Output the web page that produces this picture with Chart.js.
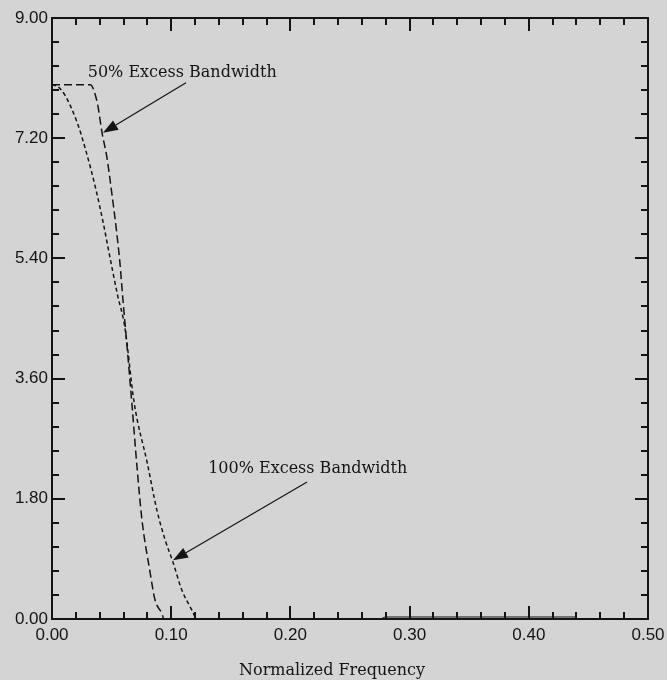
<!DOCTYPE html>
<html>
<head>
<meta charset="utf-8">
<script src="https://cdn.jsdelivr.net/npm/chart.js@4.4.1/dist/chart.umd.min.js"></script>
<style>
  html, body { margin: 0; padding: 0; background: #d4d4d4; }
  #wrap { width: 667px; height: 680px; }
</style>
</head>
<body>
<div id="wrap"><canvas id="c" width="667" height="680"></canvas></div>
<script>
// Raised-cosine magnitude responses (normalized frequency vs. magnitude)
const freq50 = [0, 0.032, 0.038, 0.042, 0.046, 0.050, 0.054, 0.057, 0.0595, 0.0615, 0.067, 0.0713, 0.0755, 0.082, 0.0865, 0.092, 0.094, 0.275];
const mag50  = [8.00, 8.00, 7.73, 7.28, 6.92, 6.40, 5.83, 5.33, 4.78, 4.38, 3.23, 2.28, 1.48, 0.73, 0.28, 0.09, 0.00, 0.00];

const freq100 = [0, 0.005, 0.011, 0.021, 0.028, 0.037, 0.043, 0.049, 0.055, 0.061, 0.069, 0.080, 0.088, 0.095, 0.1015, 0.109, 0.1175, 0.1215, 0.275, 0.28, 0.44];
const mag100  = [8.00, 7.97, 7.84, 7.44, 7.04, 6.42, 5.93, 5.38, 4.85, 4.38, 3.23, 2.33, 1.63, 1.18, 0.85, 0.43, 0.13, 0.00, 0.00, 0.03, 0.03];

const seriesNames = ['50% Excess Bandwidth', '100% Excess Bandwidth'];
const xTickValues = [0, 0.1, 0.2, 0.3, 0.4, 0.5];
const yTickValues = [0, 1.8, 3.6, 5.4, 7.2, 9.0];
const xAxisTitle = 'Normalized Frequency';

const toPoints = (xs, ys) => xs.map((x, i) => ({ x: x, y: ys[i] }));

// Callout labels with arrows, positioned in data coordinates
const callouts = [
  { text: seriesNames[0], at: [0.030, 8.12], from: [0.1124, 8.03], to: [0.0428, 7.28] },
  { text: seriesNames[1], at: [0.131, 2.19], from: [0.214, 2.05], to: [0.1015, 0.88] }
];

const ink = '#141414';

const framePlugin = {
  id: 'frame',
  afterDatasetsDraw(chart) {
    const { ctx, chartArea: a, scales } = chart;
    const xs = scales.x, ys = scales.y;
    ctx.save();
    ctx.strokeStyle = ink;
    ctx.lineWidth = 2;
    ctx.strokeRect(a.left, a.top, a.right - a.left, a.bottom - a.top);

    const majorLen = 13, minorLen = 7, sub = 5;
    const xStep = (xTickValues[1] - xTickValues[0]) / sub;
    const yStep = (yTickValues[1] - yTickValues[0]) / sub;
    ctx.beginPath();
    const nx = Math.round((xTickValues[xTickValues.length - 1] - xTickValues[0]) / xStep);
    for (let i = 0; i <= nx; i++) {
      const px = Math.round(xs.getPixelForValue(xTickValues[0] + i * xStep));
      const len = i % sub === 0 ? majorLen : minorLen;
      ctx.moveTo(px, a.bottom); ctx.lineTo(px, a.bottom - len);
      ctx.moveTo(px, a.top); ctx.lineTo(px, a.top + len);
    }
    const ny = Math.round((yTickValues[yTickValues.length - 1] - yTickValues[0]) / yStep);
    for (let i = 0; i <= ny; i++) {
      const py = Math.round(ys.getPixelForValue(yTickValues[0] + i * yStep));
      const len = i % sub === 0 ? majorLen : minorLen;
      ctx.moveTo(a.left, py); ctx.lineTo(a.left + len, py);
      ctx.moveTo(a.right, py); ctx.lineTo(a.right - len, py);
    }
    ctx.stroke();

    // callouts
    ctx.font = '16px "DejaVu Serif"';
    ctx.fillStyle = ink;
    ctx.textBaseline = 'alphabetic';
    ctx.textAlign = 'left';
    ctx.lineWidth = 1.2;
    callouts.forEach(c => {
      ctx.fillText(c.text, xs.getPixelForValue(c.at[0]), ys.getPixelForValue(c.at[1]));
      const x0 = xs.getPixelForValue(c.from[0]), y0 = ys.getPixelForValue(c.from[1]);
      const x1 = xs.getPixelForValue(c.to[0]), y1 = ys.getPixelForValue(c.to[1]);
      const ang = Math.atan2(y1 - y0, x1 - x0);
      const hl = 15, hw = 5.5;
      const bx = x1 - hl * Math.cos(ang), by = y1 - hl * Math.sin(ang);
      ctx.beginPath();
      ctx.moveTo(x0, y0); ctx.lineTo(bx, by);
      ctx.stroke();
      ctx.beginPath();
      ctx.moveTo(x1, y1);
      ctx.lineTo(bx + hw * Math.sin(ang), by - hw * Math.cos(ang));
      ctx.lineTo(bx - hw * Math.sin(ang), by + hw * Math.cos(ang));
      ctx.closePath();
      ctx.fill();
    });

    // axis title
    ctx.textAlign = 'center';
    ctx.fillText(xAxisTitle, (a.left + a.right) / 2 - 18, a.bottom + 56);
    ctx.restore();
  }
};

// the flat tail past the band edge is drawn as a plain thin line
const tailStart = 0.275;

new Chart(document.getElementById('c'), {
  type: 'line',
  data: {
    datasets: [
      {
        label: seriesNames[0],
        data: toPoints(freq50, mag50),
        borderColor: ink,
        borderWidth: 1.5,
        borderDash: [8, 4],
        pointRadius: 0,
        fill: false,
        cubicInterpolationMode: 'monotone'
      },
      {
        label: seriesNames[1],
        data: toPoints(freq100, mag100),
        borderColor: ink,
        borderWidth: 1.5,
        borderDash: [4, 3],
        pointRadius: 0,
        fill: false,
        cubicInterpolationMode: 'monotone',
        segment: {
          borderDash: ctx => (ctx.p0.parsed.x >= tailStart ? [] : [4, 3]),
          borderWidth: ctx => (ctx.p0.parsed.x >= tailStart ? 1 : 1.5)
        }
      }
    ]
  },
  options: {
    responsive: false,
    animation: false,
    layout: { padding: { left: 0, right: 19, top: 18, bottom: 0 } },
    plugins: { legend: { display: false }, tooltip: { enabled: false } },
    scales: {
      x: {
        type: 'linear',
        min: 0, max: 0.5,
        grid: { display: false, drawTicks: false },
        border: { display: false },
        afterBuildTicks: s => { s.ticks = xTickValues.map(v => ({ value: v })); },
        afterFit: s => { s.height = 61; s.paddingLeft = 0; s.paddingRight = 0; },
        ticks: {
          padding: 6, color: ink, autoSkip: false, maxRotation: 0,
          font: { family: 'Liberation Sans', size: 17 },
          callback: v => Number(v).toFixed(2)
        }
      },
      y: {
        type: 'linear',
        min: 0, max: 9,
        grid: { display: false, drawTicks: false },
        border: { display: false },
        afterBuildTicks: s => { s.ticks = yTickValues.map(v => ({ value: v })); },
        afterFit: s => { s.width = 52; s.paddingTop = 0; s.paddingBottom = 0; },
        ticks: {
          padding: 4, color: ink,
          font: { family: 'Liberation Sans', size: 17 },
          callback: v => Number(v).toFixed(2)
        }
      }
    }
  },
  plugins: [framePlugin]
});
</script>
</body>
</html>
